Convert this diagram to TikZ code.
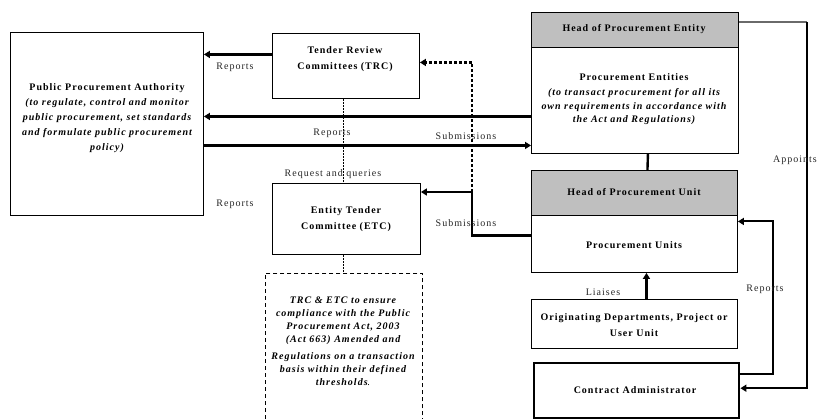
\documentclass[tikz,border=0pt]{standalone}
\usepackage{fontspec}
\setmainfont[LetterSpace=10]{Liberation Serif}
\usetikzlibrary{arrows.meta}
\definecolor{headgray}{HTML}{BFBFBF}
\definecolor{linegray}{HTML}{6A6A6A}
\tikzset{
  box/.style={draw=black, line width=0.9pt, fill=white, inner sep=0pt, anchor=north west},
  headbox/.style={box, fill=headgray},
  notebox/.style={box, dashed, dash pattern=on 4pt off 3pt, line width=0.8pt},
  txt/.style={inner sep=0pt, align=center, font=\fontsize{10}{15}\selectfont},
  btxt/.style={txt, font=\fontsize{10}{15}\selectfont\bfseries},
  lbl/.style={inner sep=0pt, font=\fontsize{10}{12}\selectfont, text=black!85},
  flow/.style={line width=2.4pt, -{Triangle[length=6pt,width=7pt]}},
  link/.style={line width=2.4pt},
  dotflow/.style={line width=2.6pt, dash pattern=on 2.6pt off 2.4pt, -{Triangle[length=6pt,width=7pt]}},
  thinlink/.style={line width=0.6pt, dash pattern=on 2pt off 1pt},
}
\begin{document}
\begin{tikzpicture}[x=1pt, y=-1pt]
\useasboundingbox (0,0) rectangle (818,418);

% boxes
\node[box, minimum width=193pt, minimum height=183pt] (PPA) at (10,32) {};
\node[box, minimum width=147pt, minimum height=65pt] (TRC) at (272,33) {};
\node[box, minimum width=148pt, minimum height=71pt] (ETC) at (272,183) {};
\node[notebox, minimum width=157pt, minimum height=160pt] (note) at (265,273) {};
\node[box, minimum width=207pt, minimum height=106pt] (PE) at (531,47) {};
\node[headbox, minimum width=207pt, minimum height=35pt] (HoPE) at (531,12) {};
\node[box, minimum width=206pt, minimum height=57pt] (PU) at (531,215) {};
\node[headbox, minimum width=206pt, minimum height=45pt] (HoPU) at (531,170) {};
\node[box, minimum width=206pt, minimum height=49pt] (Orig) at (531,299) {};
\node[box, line width=2.4pt, minimum width=205pt, minimum height=55pt] (CA) at (533,362) {};

% box texts
\node[btxt] (PPAt) at (107,118) {Public Procurement Authority\\
  \itshape (to regulate, control and monitor\\
  \itshape public procurement, set standards\\
  \itshape and formulate public procurement\\
  \itshape policy)};
\node[btxt, font=\fontsize{10}{16}\selectfont\bfseries] (TRCt) at (345,59) {Tender Review\\Committees (TRC)};
\node[btxt, font=\fontsize{10}{16}\selectfont\bfseries] (ETCt) at (346,219) {Entity Tender\\Committee (ETC)};
\node[btxt, font=\fontsize{10}{13}\selectfont\bfseries\itshape] (notet) at (343,341) {TRC \& ETC to ensure\\
  compliance with the Public\\
  Procurement Act, 2003\\
  (Act 663) Amended and\\[4pt]
  Regulations on a transaction\\
  basis within their defined\\
  thresholds\textmd{.}};
\node[btxt] (HoPEt) at (634,29) {Head of Procurement Entity};
\node[btxt, font=\fontsize{10}{13.5}\selectfont\bfseries] (PEt) at (634,99) {Procurement Entities\\[2pt]
  \itshape (to transact procurement for all its\\
  \itshape own requirements in accordance with\\
  \itshape the Act and Regulations)};
\node[btxt] (HoPUt) at (634,192) {Head of Procurement Unit};
\node[btxt] (PUt) at (634,245) {Procurement Units};
\node[btxt, font=\fontsize{10}{16}\selectfont\bfseries] (Origt) at (634,325) {Originating Departments, Project or\\User Unit};
\node[btxt] (CAt) at (635,390) {Contract Administrator};

% connectors
\draw[flow] ([yshift=11.5pt]TRC.west) -- ([yshift=11.5pt]TRC.west -| PPA.east);
\draw[flow] ([yshift=-16pt]PE.west) -- ([yshift=-16pt]PE.west -| PPA.east);
\draw[flow] ([yshift=-21.5pt]PPA.east) -- ([yshift=-21.5pt]PPA.east -| PE.west);
\coordinate (J) at (472,192);
\draw[dotflow] (J) |- ([yshift=3.5pt]TRC.east);
\draw[flow] ([yshift=8.5pt]PU.west) -| (J) -- (J -| ETC.east);
\draw[thinlink] ([xshift=-2.5pt]TRC.south) -- ([xshift=-2.5pt]TRC.south |- ETC.north);
\draw[thinlink] ([xshift=-3pt]ETC.south) -- ([xshift=-3pt]ETC.south |- note.north);
\draw[link] ([xshift=13pt]PE.south) -- ([xshift=13pt]HoPU.north);
\draw[flow] ([xshift=12pt]Orig.north) -- ([xshift=12pt]PU.south);
\coordinate (Rt) at (773,0);
\draw[line width=2pt, -{Triangle[length=6pt,width=7pt]}]
  ([yshift=16.5pt]CA.east) -- ([yshift=16.5pt]CA.east -| Rt)
  -- ([yshift=22.5pt]PU.east -| Rt) -- ([yshift=22.5pt]PU.east);
\coordinate (At) at (807,0);
\draw[line width=2pt, linegray] ([yshift=7.5pt]HoPE.east) -- ([yshift=7.5pt]HoPE.east -| At);
\draw[line width=2pt, -{Triangle[length=6pt,width=7pt]}]
  ([yshift=7.5pt]HoPE.east -| At) |- ([yshift=2.5pt]CA.east);

% connector labels
\node[lbl] (l1) at (235,67) {Reports};
\node[lbl] (l2) at (332,133) {Reports};
\node[lbl] (l3) at (466,136) {Submissions};
\node[lbl] (l4) at (333,174) {Request and queries};
\node[lbl] (l5) at (235,204) {Reports};
\node[lbl] (l6) at (466,223) {Submissions};
\node[lbl, anchor=east] (l7) at (817,160) {Appoints};
\node[lbl] (l8) at (603,292) {Liaises};
\node[lbl] (l9) at (765,289) {Reports};
\end{tikzpicture}
\end{document}
